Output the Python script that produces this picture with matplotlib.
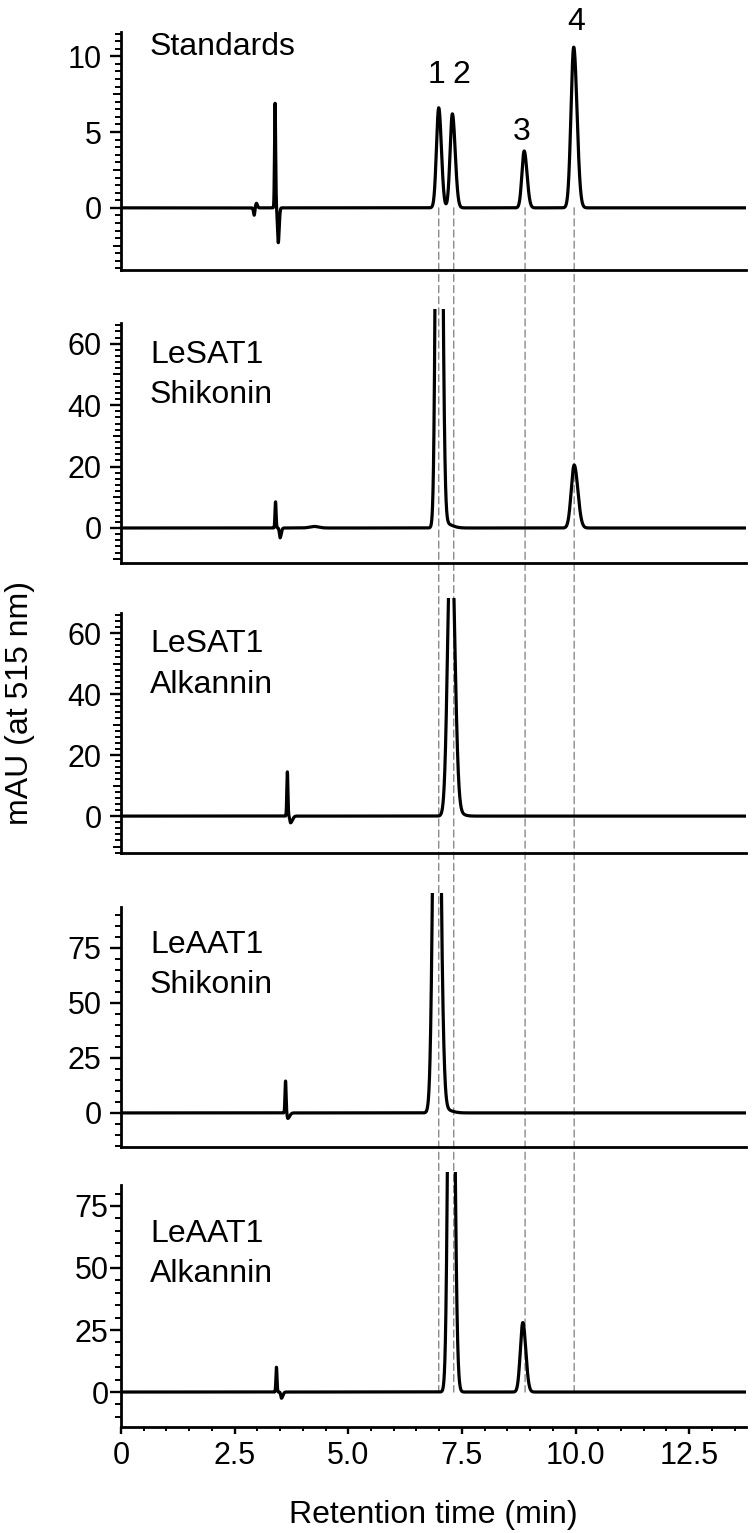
#!/usr/bin/env python3
# hplc traces at 515 nm: standards on top, then the four enzyme assays.
# peaks are kept as (rt, height, sigma_left, sigma_right), read off the
# printed figure. the big product peaks ran off scale in the print, so
# the axes clip them a little above where the y spine stops.

import matplotlib
matplotlib.use("Agg")
import matplotlib.pyplot as plt
from matplotlib.patches import ConnectionPatch
import numpy as np

plt.rcParams["font.family"] = ["Liberation Sans", "DejaVu Sans"]

W, H = 752, 1533

# retention times of the four standards (dashed guides) and their labels
STD_RT = [6.99, 7.32, 8.89, 9.97]
STD_NAMES = ["1", "2", "3", "4"]

PANEL_NAMES = [
    ["Standards"],
    ["LeSAT1", "Shikonin"],
    ["LeSAT1", "Alkannin"],
    ["LeAAT1", "Shikonin"],
    ["LeAAT1", "Alkannin"],
]

STANDARDS_PEAKS = [
    (2.93, -0.5, 0.015, 0.015),
    (2.98, 0.3, 0.02, 0.02),
    (3.39, 6.9, 0.012, 0.012),
    (3.46, -2.3, 0.015, 0.02),
    (6.99, 6.6, 0.05, 0.058),
    (7.29, 6.2, 0.05, 0.062),
    (8.87, 3.75, 0.05, 0.062),
    (9.96, 10.6, 0.06, 0.072),
]
SAT_SHIKONIN_PEAKS = [
    (3.40, 8.5, 0.012, 0.012),
    (3.50, -3.2, 0.015, 0.025),
    (4.25, 0.5, 0.1, 0.1),
    (6.99, 290.0, 0.05, 0.06),
    (7.12, 1.5, 0.03, 0.15),
    (9.97, 20.5, 0.065, 0.08),
]
SAT_ALKANNIN_PEAKS = [
    (3.66, 14.5, 0.012, 0.012),
    (3.73, -2.2, 0.015, 0.04),
    (7.26, 100.0, 0.07, 0.08),
    (7.40, 1.0, 0.03, 0.12),
]
AAT_SHIKONIN_PEAKS = [
    (3.62, 14.5, 0.012, 0.012),
    (3.67, -2.5, 0.015, 0.04),
    (6.94, 262.0, 0.065, 0.078),
    (7.12, 1.5, 0.03, 0.15),
]
AAT_ALKANNIN_PEAKS = [
    (3.42, 10.0, 0.012, 0.012),
    (3.53, -2.5, 0.015, 0.03),
    (7.26, 260.0, 0.055, 0.065),
    (8.84, 28.0, 0.055, 0.065),
]
PEAKS = [STANDARDS_PEAKS, SAT_SHIKONIN_PEAKS, SAT_ALKANNIN_PEAKS,
         AAT_SHIKONIN_PEAKS, AAT_ALKANNIN_PEAKS]

# y ranges: (bottom, clip top, where the spine stops)
Y_RANGES = [(-4.1, 11.6, 11.6), (-11.4, 71.3, 66.8), (-12.1, 71.5, 66.6),
            (-15.5, 100.0, 93.6), (-14.1, 88.7, 83.5)]
Y_MAJOR = [[0, 5, 10], [0, 20, 40, 60], [0, 20, 40, 60],
           [0, 25, 50, 75], [0, 25, 50, 75]]
Y_MINOR_STEP = [0.5, 2, 2, 5, 5]
Y_MID_STEP = [2.5, 10, 10, None, None]

X_MAX = 13.75
X_TICKS = [0, 2.5, 5.0, 7.5, 10.0, 12.5]
X_TICK_LABELS = ["0", "2.5", "5.0", "7.5", "10.0", "12.5"]

# pixel layout of each panel: (top incl. clip, bottom spine)
PANEL_PX = [(32, 270), (309, 563), (598, 853), (893, 1147), (1172, 1427)]
LEFT_PX, RIGHT_PX = 121, 746
# baselines of the in-panel names
NAME_BASE_PX = [[55], [363, 403], [652, 693], [953, 993], [1242, 1282]]
# number labels over the standards: (x px, baseline px)
STD_LABEL_PX = [(437, 83), (461, 83), (522, 140), (576, 30)]

FS = 23
TICK_FS = 22


def trace(x, peaks):
    y = np.zeros_like(x)
    for rt, h, sl, sr in peaks:
        s = np.where(x < rt, sl, sr)
        y += h * np.exp(-0.5 * ((x - rt) / s) ** 2)
    return y


def steps(lo, hi, step):
    k0 = int(np.ceil(lo / step - 1e-9))
    k1 = int(np.floor(hi / step + 1e-9))
    return [k * step for k in range(k0, k1 + 1)]


def main():
    fig = plt.figure(figsize=(W / 100, H / 100), dpi=100)
    x = np.linspace(0, X_MAX, 8000)
    axes = []
    n = len(PEAKS)
    for i in range(n):
        top, bot = PANEL_PX[i]
        ax = fig.add_axes([LEFT_PX / W, 1 - bot / H,
                           (RIGHT_PX - LEFT_PX) / W, (bot - top) / H])
        ax.set_facecolor("none")
        ax.plot(x, trace(x, PEAKS[i]), color="black", lw=2.3,
                solid_joinstyle="round", zorder=3)
        lo, clip, stop = Y_RANGES[i]
        ax.set_xlim(0, X_MAX)
        ax.set_ylim(lo, clip)
        for s in ("top", "right"):
            ax.spines[s].set_visible(False)
        for s in ("left", "bottom"):
            ax.spines[s].set_linewidth(2.0)
        ax.spines["left"].set_bounds(lo, stop)

        ax.set_yticks(Y_MAJOR[i])
        ax.set_yticklabels([str(v) for v in Y_MAJOR[i]])
        ax.set_yticks(steps(lo, stop, Y_MINOR_STEP[i]), minor=True)
        pad = 1 if i == n - 1 else 6
        ax.tick_params(axis="y", which="major", direction="out", length=8,
                       width=1.7, labelsize=TICK_FS, pad=pad)
        ax.tick_params(axis="y", which="minor", direction="out", length=4,
                       width=1.4)
        if Y_MID_STEP[i]:
            sec = ax.secondary_yaxis("left")
            sec.spines["left"].set_visible(False)
            sec.set_yticks(steps(lo, stop, Y_MID_STEP[i]))
            sec.set_yticklabels([])
            sec.tick_params(axis="y", direction="out", length=6, width=1.4)

        if i == n - 1:
            ax.set_xticks(X_TICKS)
            ax.set_xticklabels(X_TICK_LABELS)
            ax.set_xticks(steps(0, X_MAX, 0.5), minor=True)
            ax.tick_params(axis="x", which="major", direction="out",
                           length=5, width=1.7, labelsize=TICK_FS, pad=5)
            ax.tick_params(axis="x", which="minor", direction="out",
                           length=3, width=1.4)
        else:
            ax.tick_params(axis="x", which="both", bottom=False,
                           labelbottom=False)

        for name, base in zip(PANEL_NAMES[i], NAME_BASE_PX[i]):
            fig.text(150 / W, 1 - base / H, name, fontsize=FS,
                     ha="left", va="baseline")
        axes.append(ax)

    for (px, base), lab in zip(STD_LABEL_PX, STD_NAMES):
        fig.text(px / W, 1 - base / H, lab, fontsize=FS,
                 ha="center", va="baseline")

    # dashed guides from the standards down to the last baseline
    for rt in STD_RT:
        con = ConnectionPatch(xyA=(rt, 0), coordsA=axes[0].transData,
                              xyB=(rt, 0), coordsB=axes[-1].transData,
                              color="#8a8a8a", lw=1.0,
                              linestyle=(0, (5, 3)), zorder=-1)
        fig.add_artist(con)

    fig.text((LEFT_PX + RIGHT_PX) / 2 / W, 1 - 1523 / H,
             "Retention time (min)", fontsize=FS, ha="center",
             va="baseline")
    fig.text(20 / W, 1 - 703 / H, "mAU (at 515 nm)", fontsize=FS,
             rotation=90, ha="center", va="center")

    fig.savefig("out.png", dpi=100)
    plt.close(fig)


if __name__ == "__main__":
    main()
